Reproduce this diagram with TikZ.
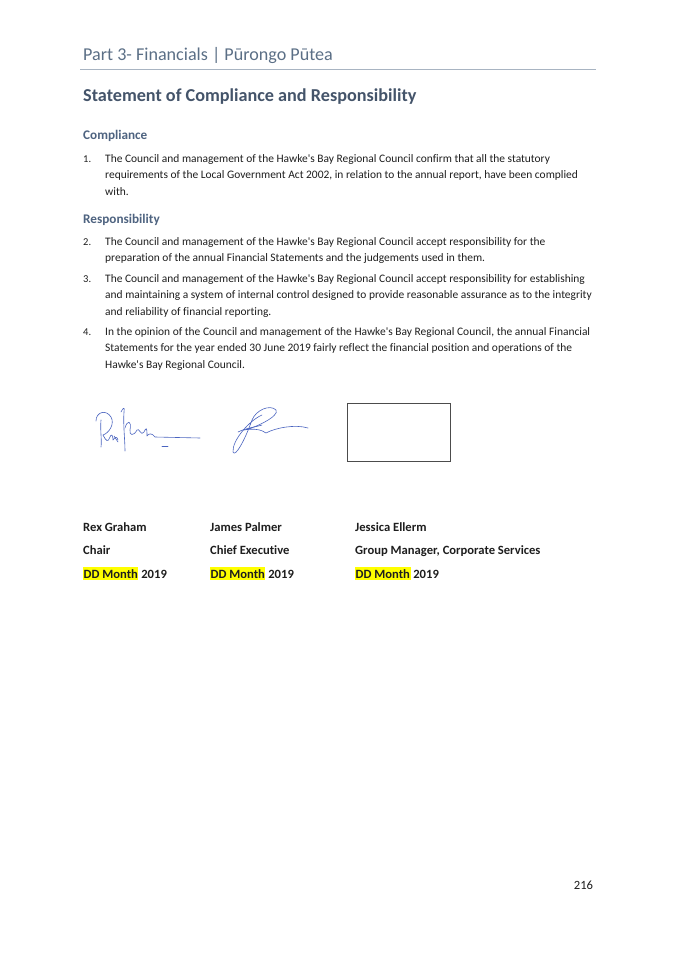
\documentclass[tikz,border=0pt]{standalone}
\usepackage{fontspec}
\setmainfont[Ligatures={CommonOff,TeXOff}]{Carlito}
\definecolor{hdr}{HTML}{5B6F86}
\definecolor{ttl}{HTML}{44546A}
\definecolor{sub}{HTML}{4E6380}
\definecolor{rul}{HTML}{A8B4C2}
\definecolor{txt}{HTML}{1E1E1E}
\definecolor{ink}{HTML}{4A64C0}
\definecolor{hl}{HTML}{FFFF00}
\tikzset{
  line/.style={anchor=base west,inner sep=0pt,font=\fontsize{11.45}{13}\selectfont,text=txt},
  num/.style={anchor=base west,inner sep=0pt,font=\fontsize{10.5}{12}\selectfont,text=txt},
  subhead/.style={anchor=base west,inner sep=0pt,font=\fontsize{13.2}{15}\selectfont\bfseries,text=sub},
  sig/.style={anchor=base west,inner sep=0pt,font=\fontsize{12.6}{15}\selectfont\bfseries,text=txt},
  pen/.style={draw=ink,line width=0.6pt,line cap=round,line join=round},
}
\newcommand{\hlw}[1]{\tikz[baseline=(h.base)]\node[fill=hl,inner xsep=0.5pt,inner ysep=1.8pt,outer sep=0pt](h){#1};}
\begin{document}
\begin{tikzpicture}[x=1pt,y=-1pt]
\useasboundingbox[fill=white] (0,0) rectangle (675,955);
% header
\node[anchor=base west,inner sep=0pt,font=\fontsize{18.1}{20}\selectfont,text=hdr] (hdr) at (83,61) {Part 3- Financials | Pūrongo Pūtea};
\coordinate (r1) at (80,69.5);
\coordinate (r2) at (596,69.5);
\draw[rul,line width=0.9pt] (r1) -- (r2);
\node[anchor=base west,inner sep=0pt,font=\fontsize{18.2}{21}\selectfont\bfseries,text=ttl] (title) at (83,101.5) {Statement of Compliance and Responsibility};
\node[subhead] (comp) at (83,139.5) {Compliance};
\node[num] (n1) at (83,162) {1.};
\node[line] (l1a) at (105,162) {The Council and management of the Hawke's Bay Regional Council confirm that all the statutory};
\node[line] (l1b) at (105,178.7) {requirements of the Local Government Act 2002, in relation to the annual report, have been complied};
\node[line] (l1c) at (105,195.3) {with.};
\node[subhead] (resp) at (83,223.5) {Responsibility};
\node[num] (n2) at (83,245) {2.};
\node[line] (l2a) at (105,245) {The Council and management of the Hawke's Bay Regional Council accept responsibility for the};
\node[line] (l2b) at (105,261.7) {preparation of the annual Financial Statements and the judgements used in them.};
\node[num] (n3) at (83,282) {3.};
\node[line] (l3a) at (105,282) {The Council and management of the Hawke's Bay Regional Council accept responsibility for establishing};
\node[line] (l3b) at (105,298.7) {and maintaining a system of internal control designed to provide reasonable assurance as to the integrity};
\node[line] (l3c) at (105,315.3) {and reliability of financial reporting.};
\node[num] (n4) at (83,335) {4.};
\node[line] (l4a) at (105,335) {In the opinion of the Council and management of the Hawke's Bay Regional Council, the annual Financial};
\node[line] (l4b) at (105,351.7) {Statements for the year ended 30 June 2019 fairly reflect the financial position and operations of the};
\node[line] (l4c) at (105,368.3) {Hawke's Bay Regional Council.};
% signature of Rex Graham
\draw[pen] (96,421) .. controls (96,412) and (106,409) .. (111,417) .. controls (115,424) and (109,433) .. (103,435);
\draw[pen] (101,420) .. controls (100,430) and (102,440) .. (101,447);
\draw[pen] (103,435) .. controls (106,441) and (108,443) .. (110,437) .. controls (111,434) and (113,434) .. (113,440) .. controls (115,437) and (117,436) .. (118,440);
\draw[pen] (114,436) -- (118,442);
\draw[pen] (121,412) .. controls (123,408) and (125,406) .. (124,412) .. controls (123,424) and (125,440) .. (125,451);
\draw[pen] (125,428) .. controls (127,420) and (132,420) .. (130,430) .. controls (129,436) and (134,436) .. (137,430) .. controls (139,427) and (141,437) .. (144,432) .. controls (146,428) and (147,426) .. (147,436) .. controls (149,433) and (152,433) .. (155,437) -- (200,438);
\draw[pen] (162,446) -- (168,446);
% signature of James Palmer
\draw[pen] (262,415) .. controls (250,420) and (232,440) .. (233,452) .. controls (235,458) and (245,440) .. (252,420) .. controls (256,410) and (270,404) .. (276,410) .. controls (280,416) and (255,428) .. (244,430) .. controls (255,428) and (262,430) .. (266,433) .. controls (275,428) and (295,424) .. (308,428);
\draw[pen] (238,432) .. controls (246,428) and (256,427) .. (262,425);
% empty signature box
\node[draw=black!70,line width=0.8pt,minimum width=103pt,minimum height=58pt,inner sep=0pt] (box) at (398.5,432) {};
% names
\node[sig] (nm1) at (83,531) {Rex Graham};
\node[sig] (nm2) at (210,531) {James Palmer};
\node[sig] (nm3) at (355,531) {Jessica Ellerm};
\node[sig] (rl1) at (83,554.5) {Chair};
\node[sig] (rl2) at (210,554.5) {Chief Executive};
\node[sig] (rl3) at (355,554.5) {Group Manager, Corporate Services};
\node[sig] (dt1) at (83,578) {\hlw{DD Month} 2019};
\node[sig] (dt2) at (210,578) {\hlw{DD Month} 2019};
\node[sig] (dt3) at (355,578) {\hlw{DD Month} 2019};
% page number
\node[anchor=base,inner sep=0pt,font=\fontsize{12.6}{15}\selectfont,text=txt] (pg) at (583.5,889) {216};
\end{tikzpicture}
\end{document}
